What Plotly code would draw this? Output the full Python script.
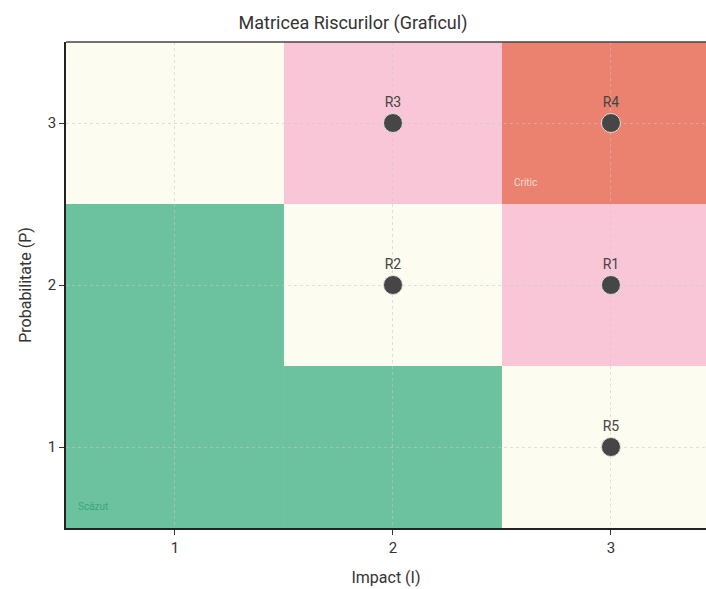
import plotly.graph_objects as go

# Data
risk_ids = ["R1", "R2", "R3", "R4", "R5"]
impact = [3, 2, 2, 3, 3]
probability = [2, 2, 3, 3, 1]

# Zones
zone_x0 = [0.5, 1.5, 0.5, 1.5, 2.5, 1.5, 2.5, 2.5]
zone_x1 = [1.5, 2.5, 1.5, 2.5, 3.5, 2.5, 3.5, 3.5]
zone_y0 = [0.5, 0.5, 2.5, 1.5, 0.5, 2.5, 1.5, 2.5]
zone_y1 = [2.5, 1.5, 3.5, 2.5, 1.5, 3.5, 2.5, 3.5]
zone_level = ["low", "low", "mid", "mid", "mid", "high", "high", "crit"]
level_colors = {"low": "#6cc29e", "mid": "#fdfcf0", "high": "#f8c6d6", "crit": "#ea826f"}

tick_vals = [1, 2, 3]

fig = go.Figure()

for x0, x1, y0, y1, lv in zip(zone_x0, zone_x1, zone_y0, zone_y1, zone_level):
    fig.add_shape(type="rect", x0=x0, x1=x1, y0=y0, y1=y1, xref="x", yref="y",
                  fillcolor=level_colors[lv], line=dict(width=0), layer="below")

fig.add_trace(go.Scatter(
    x=impact, y=probability, mode="markers+text", text=risk_ids,
    textposition="top center",
    textfont=dict(size=14, color="#444444", family="Roboto, DejaVu Sans"),
    marker=dict(size=19, color="#464646", line=dict(color="#dddddd", width=1)),
    hoverinfo="skip", showlegend=False,
))

fig.add_annotation(x=0.546, y=0.635, xref="x", yref="y", text="Scăzut", showarrow=False,
                   xanchor="left", yanchor="middle",
                   font=dict(size=10, color="#3aa67c", family="Roboto, DejaVu Sans"))
fig.add_annotation(x=2.546, y=2.63, xref="x", yref="y", text="Critic", showarrow=False,
                   xanchor="left", yanchor="middle",
                   font=dict(size=10, color="#f6dcd6", family="Roboto, DejaVu Sans"))

fig.update_layout(
    width=706, height=589,
    margin=dict(l=66, r=0, t=42, b=61, autoexpand=False),
    paper_bgcolor="white", plot_bgcolor="white",
    title=dict(text="Matricea Riscurilor (Graficul)", x=0.5, xanchor="center",
               y=1 - 23 / 589, yanchor="middle",
               font=dict(size=18, color="#333333", family="Roboto, DejaVu Sans")),
    font=dict(family="Roboto, DejaVu Sans", color="#333333"),
)
fig.update_xaxes(range=[0.5, 3.436], tickvals=tick_vals, ticks="outside", ticklen=5,
                 tickcolor="#333333", showline=True, linecolor="#222222", linewidth=1.5,
                 showgrid=True, gridcolor="rgba(200,200,200,0.55)", griddash="dot",
                 zeroline=False, tickfont=dict(size=15, color="#333333"),
                 title=dict(text="Impact (I)", font=dict(size=16, color="#333333"), standoff=16))
fig.update_yaxes(range=[0.5, 3.5], tickvals=tick_vals, ticks="outside", ticklen=5,
                 tickcolor="#333333", showline=True, linecolor="#222222", linewidth=1.5,
                 showgrid=True, gridcolor="rgba(200,200,200,0.55)", griddash="dot",
                 zeroline=False, tickfont=dict(size=15, color="#333333"),
                 title=dict(text="Probabilitate (P)", font=dict(size=16, color="#333333"), standoff=12))
fig.add_shape(type="line", xref="paper", yref="paper", x0=0, x1=1, y0=1, y1=1,
              line=dict(color="#444444", width=1.5))

fig.write_html("out.html", config={"displayModeBar": False},
               post_script="document.body.style.margin='0';document.body.style.overflow='hidden';")
